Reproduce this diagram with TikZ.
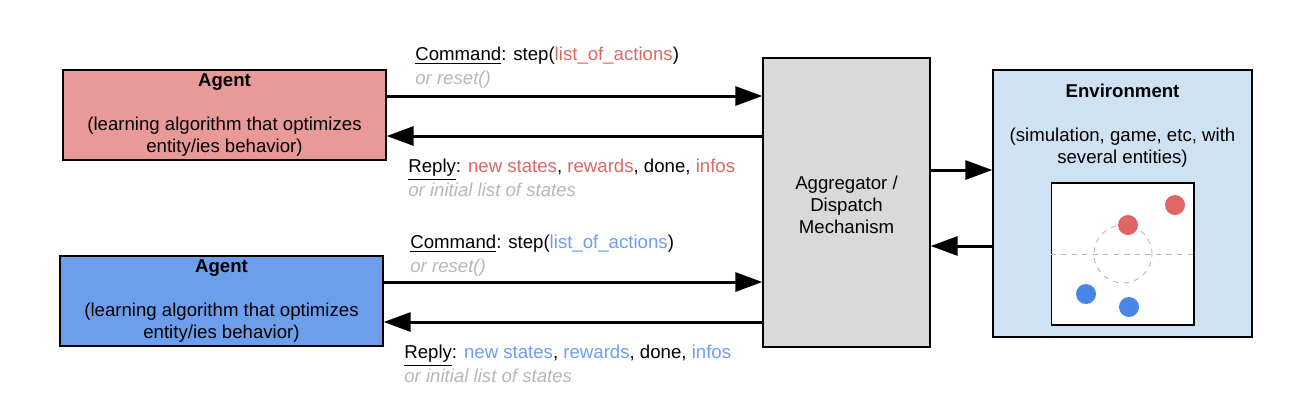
\documentclass[tikz,border=0pt]{standalone}
\usepackage{fontspec}
\setmainfont{Liberation Sans}
\usetikzlibrary{arrows.meta}

\definecolor{agentred}{HTML}{EA9999}
\definecolor{agentblue}{HTML}{6D9EEB}
\definecolor{aggrgray}{HTML}{D9D9D9}
\definecolor{envblue}{HTML}{CFE2F3}
\definecolor{txtred}{HTML}{E06666}
\definecolor{txtblue}{HTML}{6D9EEB}
\definecolor{txtgray}{HTML}{B7B7B7}
\definecolor{dotred}{HTML}{E06666}
\definecolor{dotblue}{HTML}{4A86E8}

\begin{document}
\begin{tikzpicture}[x=0.02cm, y=-0.02cm,
  >={Triangle[length=0.54cm, width=0.38cm]},
  every node/.style={font=\fontsize{10.6}{12.5}\selectfont},
  box/.style={draw, line width=0.8pt, align=center, inner sep=0pt},
  lbl/.style={anchor=west, align=left, inner sep=0pt},
  flow/.style={->, line width=1.7pt},
  dot/.style={circle, inner sep=0pt, minimum size=0.4cm}]
  \useasboundingbox (0,0) rectangle (1310,414);

  % agents
  \node[box, fill=agentred, minimum width=6.46cm, minimum height=1.8cm] (agentA) at (224.5,115)
    {\textbf{Agent}\\[12.5pt](learning algorithm that optimizes\\entity/ies behavior)};
  \node[box, fill=agentblue, minimum width=6.46cm, minimum height=1.8cm] (agentB) at (221.5,301)
    {\textbf{Agent}\\[12.5pt](learning algorithm that optimizes\\entity/ies behavior)};

  % aggregator
  \node[box, fill=aggrgray, minimum width=3.34cm, minimum height=5.78cm] (aggr) at (846.5,202.5) {};
  \node[align=center, inner sep=0pt] (aggrtxt) at (846.5,205) {Aggregator /\\Dispatch\\Mechanism};

  % environment
  \node[box, fill=envblue, minimum width=5.18cm, minimum height=5.34cm] (env) at (1122.5,203.5) {};
  \node[align=center, anchor=north, inner sep=0pt] (envtxt) at (1122.5,84)
    {\textbf{Environment}\\[12.5pt](simulation, game, etc, with\\several entities)};
  \node[draw, line width=0.6pt, fill=white, minimum width=2.86cm, minimum height=2.84cm, inner sep=0pt] (world) at (1122.5,254) {};
  \draw[txtgray, dashed, line width=0.5pt] (world.west) -- (world.east);
  \draw[txtgray, dashed, line width=0.5pt] (1123,254) circle[radius=0.58cm];
  \node[dot, fill=dotred] (redA) at (1128,225) {};
  \node[dot, fill=dotred] (redB) at (1175,205) {};
  \node[dot, fill=dotblue] (blueA) at (1086,294) {};
  \node[dot, fill=dotblue] (blueB) at (1129,307) {};

  % connectors
  \draw[flow] (agentA.east|-0,96) -- (aggr.west|-0,96);
  \draw[flow] (aggr.west|-0,136) -- (agentA.east|-0,136);
  \draw[flow] (agentB.east|-0,282) -- (aggr.west|-0,282);
  \draw[flow] (aggr.west|-0,322) -- (agentB.east|-0,322);
  \draw[flow] (aggr.east|-0,170) -- (env.west|-0,170);
  \draw[flow] (env.west|-0,246) -- (aggr.east|-0,246);

  % labels
  \node[lbl] (cmdA) at (415,68)
    {\underline{Command}: step(\textcolor{txtred}{list\_of\_actions})\\[1pt]\textcolor{txtgray}{\itshape or reset()}};
  \node[lbl] (replyA) at (408,178)
    {\underline{Reply}: \textcolor{txtred}{new states}, \textcolor{txtred}{rewards}, done, \textcolor{txtred}{infos}\\[1pt]\textcolor{txtgray}{\itshape or initial list of states}};
  \node[lbl] (cmdB) at (410,256)
    {\underline{Command}: step(\textcolor{txtblue}{list\_of\_actions})\\[1pt]\textcolor{txtgray}{\itshape or reset()}};
  \node[lbl] (replyB) at (404,364)
    {\underline{Reply}: \textcolor{txtblue}{new states}, \textcolor{txtblue}{rewards}, done, \textcolor{txtblue}{infos}\\[1pt]\textcolor{txtgray}{\itshape or initial list of states}};
\end{tikzpicture}
\end{document}
